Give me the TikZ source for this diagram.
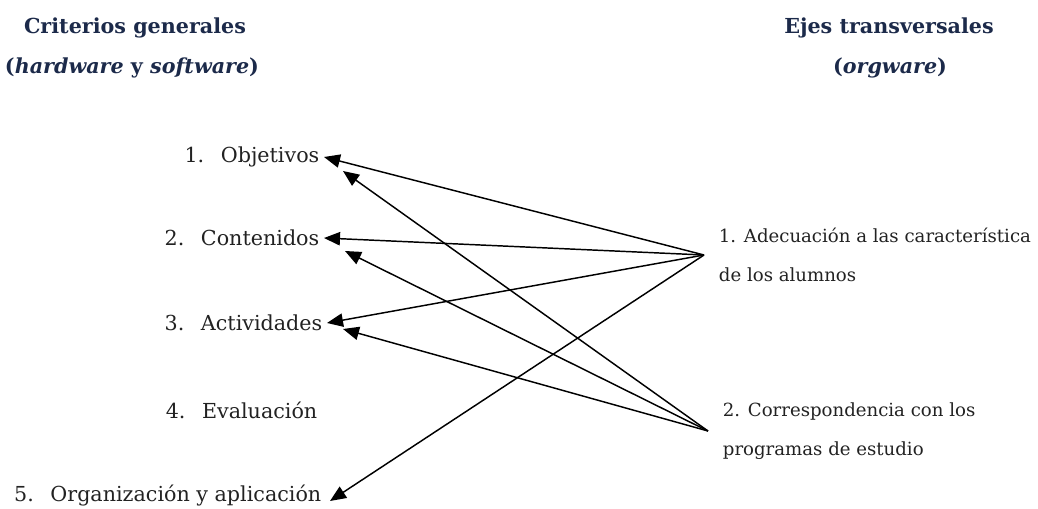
\documentclass[tikz,border=0pt]{standalone}
\usepackage{fontspec}
\setmainfont{DejaVu Serif}
\usetikzlibrary{arrows.meta}
\definecolor{headblue}{HTML}{1C2A4A}
\definecolor{itemgray}{HTML}{222222}

\tikzset{
  head/.style={font=\fontsize{15.5}{18}\selectfont\bfseries, text=headblue},
  item/.style={font=\fontsize{15.5}{18}\selectfont, text=itemgray, anchor=east},
  eje/.style={font=\fontsize{13.6}{29}\selectfont, text=itemgray, align=left,
    anchor=west, inner xsep=11pt},
  link/.style={draw, line width=1.1pt, -{Triangle[length=12pt,width=10pt]}}
}

\begin{document}
\begin{tikzpicture}[x=0.75pt,y=-0.75pt]
    \useasboundingbox (0,0) rectangle (1038,509);

    % headings
    \node[head] (crit) at (135,28) {Criterios generales};
    \node[head] (hw) at (132,68) {(\textit{hardware} y \textit{software})};
    \node[head] (ejes) at (889,28) {Ejes transversales};
    \node[head] (orgw) at (890,68) {(\textit{orgware})};

    % criterios
    \node[item] (obj) at (324,157) {1.\hspace{0.8em}Objetivos};
    \node[item] (cont) at (324,238) {2.\hspace{0.8em}Contenidos};
    \node[item] (act) at (327,323) {3.\hspace{0.8em}Actividades};
    \node[item] (eval) at (322,410) {4.\hspace{0.8em}Evaluación};
    \node[item] (org) at (326,496) {5.\hspace{0.8em}Organización y aplicación};

    % ejes
    \node[eje] (adec) at (704,255) {1. Adecuación a las característica\\de los alumnos};
    \node[eje] (corr) at (708,431) {2. Correspondencia con los\\programas de estudio};

    \coordinate (obj2) at ([shift={(19,14)}]obj.east);
    \coordinate (cont2) at ([shift={(21,13)}]cont.east);
    \coordinate (act2) at ([shift={(16,6)}]act.east);
    \coordinate (org2) at ([shift={(4,5)}]org.east);

    \path[link] (adec.west) -- (obj.east);
    \path[link] (adec.west) -- (cont.east);
    \path[link] (adec.west) -- (act.east);
    \path[link] (adec.west) -- (org2);
    \path[link] (corr.west) -- (obj2);
    \path[link] (corr.west) -- (cont2);
    \path[link] (corr.west) -- (act2);
\end{tikzpicture}
\end{document}
